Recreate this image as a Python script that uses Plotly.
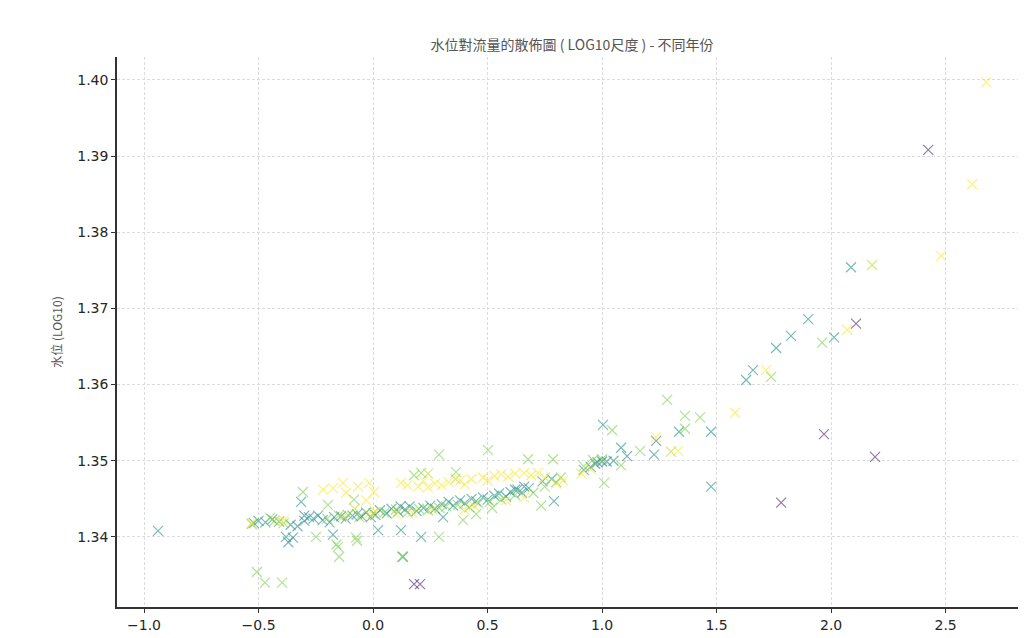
import plotly.graph_objects as go

# ---- data (log10 flow, log10 stage) grouped by year ----
x_2014 = [2.424, 2.109, 1.969, 2.192, 1.782, 0.179, 0.205]
y_2014 = [1.3908, 1.3680, 1.3535, 1.3505, 1.3445, 1.3338, 1.3338]

x_2017 = [1.236, 1.109, 0.62, 0.66, 0.97, 1.00, -0.30, 0.12]
y_2017 = [1.3526, 1.3506, 1.3462, 1.3466, 1.3496, 1.3499, 1.3428, 1.3440]

x_2018 = [-0.939, 2.087, 1.900, 1.825, 2.013, 1.760, 1.659, 1.629, 1.336, 1.476,
          1.227, 1.476, 1.083, 1.004, 0.790,
          -0.52, -0.50, -0.47, -0.44, -0.41, -0.36, -0.33, -0.30, -0.28, -0.26,
          -0.24, -0.22, -0.19, -0.17, -0.14, -0.12, -0.09, -0.07, -0.05, -0.03,
          -0.01, 0.01, 0.03, 0.06, 0.08, 0.11, 0.14, 0.16, 0.19, 0.22,
          0.25, 0.27, 0.30, 0.33, 0.35, 0.38, 0.40, 0.43, 0.45, 0.48,
          0.50, 0.53, 0.55, 0.58, 0.60, 0.63, 0.65, 0.68, 0.74, 0.78,
          0.92, 0.95, 0.98, 1.02, 1.05,
          -0.38, -0.37, -0.35, -0.175, 0.022, 0.122, 0.21, 0.306, -0.314, 0.131]
y_2018 = [1.3408, 1.3754, 1.3686, 1.3664, 1.3662, 1.3648, 1.3619, 1.3606, 1.3538, 1.3538,
          1.3508, 1.3466, 1.3517, 1.3547, 1.3447,
          1.3418, 1.3421, 1.3419, 1.3423, 1.3420, 1.3416, 1.3414, 1.3421, 1.3426, 1.3424,
          1.3428, 1.3422, 1.3419, 1.3426, 1.3427, 1.3424, 1.3428, 1.3430, 1.3427, 1.3432,
          1.3426, 1.3429, 1.3435, 1.3431, 1.3437, 1.3433, 1.3436, 1.3440, 1.3434, 1.3438,
          1.3441, 1.3437, 1.3443, 1.3446, 1.3441, 1.3448, 1.3444, 1.3450, 1.3447, 1.3452,
          1.3449, 1.3454, 1.3457, 1.3453, 1.3459, 1.3462, 1.3458, 1.3464, 1.3473, 1.3476,
          1.3488, 1.3492, 1.3498, 1.3499, 1.3500,
          1.3400, 1.3393, 1.3399, 1.3403, 1.3409, 1.3409, 1.3400, 1.3426, 1.3446, 1.3374]

x_2021 = [-0.507, -0.472, -0.397, 1.961, 1.738, 1.284, 1.362, 1.428, 1.362, 1.166,
          1.083, 1.044, 1.009, 0.677, 0.786, 0.734, 0.288, 0.502, 0.127, -0.306,
          -0.197, -0.083, 0.179, 0.210, 0.362, -0.249, -0.074, -0.153, -0.148, -0.160,
          0.288, 0.393, -0.070,
          -0.53, -0.45, -0.43, -0.39, -0.20, -0.15, -0.11, -0.06, 0.00, 0.05,
          0.10, 0.15, 0.20, 0.24, 0.29, 0.32, 0.37, 0.42, 0.46, 0.51,
          0.56, 0.62, 0.70, 0.75, 0.80, 0.82, 0.92, 0.96, 1.00, 0.45, 0.52]
y_2021 = [1.3354, 1.3340, 1.3340, 1.3655, 1.3610, 1.3580, 1.3559, 1.3557, 1.3542, 1.3513,
          1.3494, 1.3540, 1.3471, 1.3502, 1.3502, 1.3441, 1.3508, 1.3514, 1.3374, 1.3459,
          1.3442, 1.3449, 1.3481, 1.3484, 1.3485, 1.3400, 1.3399, 1.3387, 1.3374, 1.3390,
          1.3400, 1.3422, 1.3395,
          1.3417, 1.3425, 1.3421, 1.3418, 1.3424, 1.3428, 1.3429, 1.3426, 1.3431, 1.3432,
          1.3436, 1.3432, 1.3437, 1.3435, 1.3438, 1.3440, 1.3442, 1.3439, 1.3444, 1.3446,
          1.3449, 1.3455, 1.3458, 1.3466, 1.3472, 1.3478, 1.3493, 1.3501, 1.3502, 1.3430, 1.3438]

x_2022 = [2.179, 1.301, 0.36, 0.24, -0.08]
y_2022 = [1.3757, 1.3512, 1.3476, 1.3483, 1.3437]

x_2023 = [2.677, 2.616, 2.480, 2.070, 1.716, 1.581, 1.236, 1.332,
          -0.218, -0.175, -0.131, -0.118, -0.066, -0.017, 0.004, 0.122, 0.15, 0.197,
          0.22, 0.24, 0.27, 0.30, 0.33, 0.38, 0.40, 0.43, 0.48, 0.50,
          0.53, 0.56, 0.59, 0.62, 0.66, 0.69, 0.72, 0.75, 0.80, 0.83,
          -0.53, -0.41, -0.39, -0.13, -0.02, 0.01, 0.10, 0.17, 0.26, 0.40,
          0.44, 0.58, 0.66, 0.91, 0.95, -0.03]
y_2023 = [1.3997, 1.3863, 1.3769, 1.3672, 1.3619, 1.3563, 1.3531, 1.3513,
          1.3462, 1.3464, 1.3471, 1.3458, 1.3466, 1.3471, 1.3459, 1.3471, 1.3468, 1.3466,
          1.3474, 1.3465, 1.3470, 1.3468, 1.3472, 1.3474, 1.3469, 1.3476, 1.3478, 1.3474,
          1.3480, 1.3482, 1.3479, 1.3483, 1.3484, 1.3481, 1.3484, 1.3478, 1.3470, 1.3474,
          1.3418, 1.3421, 1.3422, 1.3427, 1.3430, 1.3433, 1.3430, 1.3432, 1.3436, 1.3436,
          1.3441, 1.3448, 1.3452, 1.3483, 1.3489, 1.3448]

groups = [(2014, x_2014, y_2014), (2017, x_2017, y_2017), (2018, x_2018, y_2018),
          (2021, x_2021, y_2021), (2022, x_2022, y_2022), (2023, x_2023, y_2023)]

xs, ys, yrs = [], [], []
for yr, gx, gy in groups:
    xs += gx
    ys += gy
    yrs += [yr] * len(gx)

fig = go.Figure(go.Scatter(
    x=xs, y=ys, mode="markers",
    marker=dict(symbol="x-thin", size=10, opacity=0.6,
                color=yrs, colorscale="Viridis", cmin=2013, cmax=2023,
                line=dict(width=1.2, color=yrs, colorscale="Viridis", cmin=2013, cmax=2023)),
    showlegend=False,
))

axis_font = dict(family="DejaVu Sans", size=14, color="#262626")
cjk = "Noto Sans CJK TC, Noto Sans CJK SC, sans-serif"

# page has an 8px body offset; plot area spans page x 117..1026+, y 57..607
L, T, PW, PH = 109, 49, 909, 550
W, H = 1026, 638

fig.update_layout(
    width=W, height=H,
    margin=dict(l=L, r=W - L - PW, t=T, b=H - T - PH),
    paper_bgcolor="white", plot_bgcolor="white",
    title=dict(text="水位對流量的散佈圖 ( LOG10尺度 ) - 不同年份",
               x=(564 - 0) / W, xanchor="center",
               y=1 - 37 / H, yanchor="middle",
               font=dict(family=cjk, size=14, color="#555555")),
    xaxis=dict(range=[-1.118, 2.851], tickvals=[-1.0, -0.5, 0.0, 0.5, 1.0, 1.5, 2.0, 2.5],
               ticktext=["\u22121.0", "\u22120.5", "0.0", "0.5", "1.0", "1.5", "2.0", "2.5"],
               showline=True, linecolor="#333333", linewidth=1.5, mirror=False,
               ticks="outside", ticklen=4, tickcolor="#333333", tickfont=axis_font,
               showgrid=True, gridcolor="#dcdcdc", gridwidth=0.8, griddash="3px,2px",
               zeroline=False),
    yaxis=dict(range=[1.3308, 1.4030], tickvals=[1.34, 1.35, 1.36, 1.37, 1.38, 1.39, 1.40],
               ticktext=["1.34", "1.35", "1.36", "1.37", "1.38", "1.39", "1.40"],
               showline=True, linecolor="#333333", linewidth=1.5,
               ticks="outside", ticklen=4, tickcolor="#333333", tickfont=axis_font,
               showgrid=True, gridcolor="#dcdcdc", gridwidth=0.8, griddash="3px,2px",
               zeroline=False,
               title=dict(text="水位 (LOG10)", font=dict(family=cjk, size=12, color="#555555"),
                          standoff=12)),
    annotations=[dict(text="流量(cms) (LOG10)", xref="paper", yref="paper",
                      x=(564 - L) / PW, y=-(625 - (T + PH)) / PH, xanchor="center", yanchor="top",
                      showarrow=False, font=dict(family=cjk, size=12, color="#555555"))],
)

fig.write_html("out.html")
